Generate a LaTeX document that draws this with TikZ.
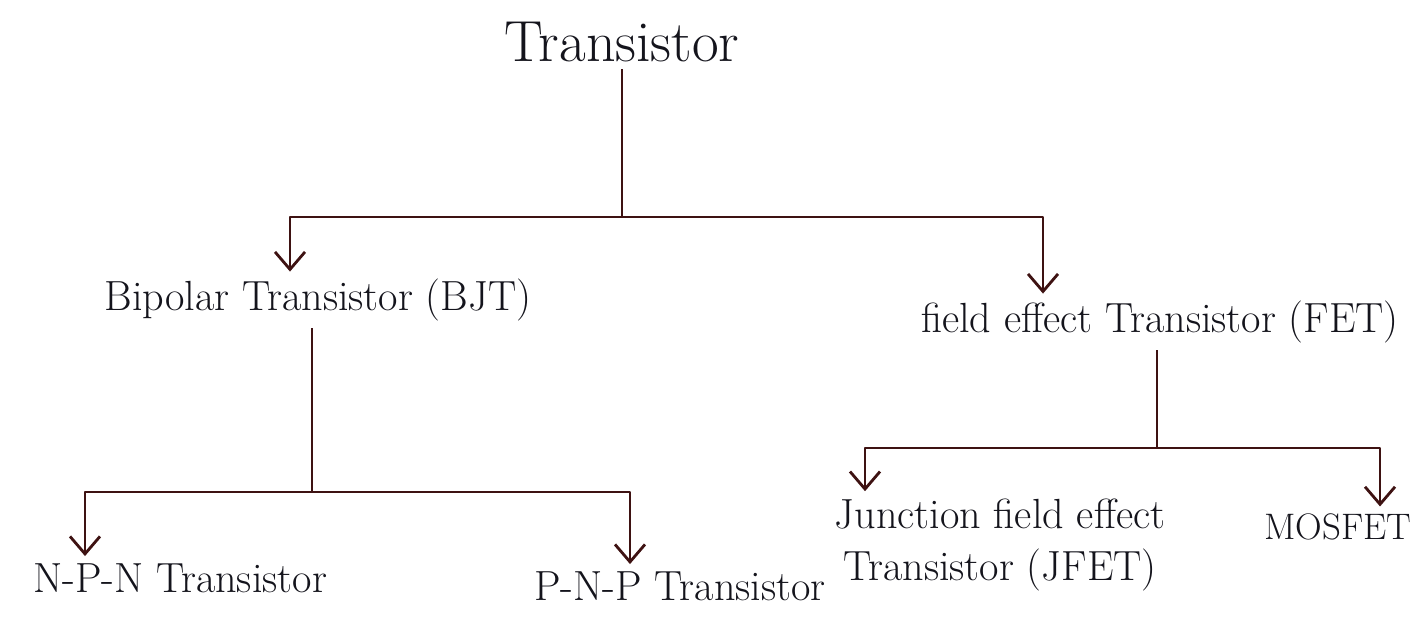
\documentclass[tikz,border=0pt]{standalone}
\usepackage{tikz}
\usetikzlibrary{arrows.meta}
\definecolor{lineclr}{HTML}{3E1212}
\definecolor{inkclr}{HTML}{14141C}
\begin{document}
\begin{tikzpicture}
	[x=0.02cm, y=-0.02cm,
	branch/.style={draw=lineclr, line width=1.6pt, line join=round},
	down/.style={branch, -{Straight Barb[length=3.5mm, width=6mm, line width=1.6pt]}},
	term/.style={text=inkclr, font=\fontsize{24}{30}\selectfont, inner sep=4pt}]
	
	\useasboundingbox (0,0) rectangle (1415,616);
	
	\node[term, font=\fontsize{33}{38}\selectfont] (tr) at (622,42) {Transistor};
	\node[term] (bjt) at (318,300) {Bipolar Transistor (BJT)};
	\node[term] (fet) at (1160,322) {field effect Transistor (FET)};
	\node[term] (npn) at (180,578) {N-P-N Transistor};
	\node[term] (pnp) at (680,586) {P-N-P Transistor};
	\node[term, align=center] (jfet) at (1000,545) {Junction field effect\\Transistor (JFET)};
	\node[term, font=\fontsize{21}{26}\selectfont] (mos) at (1338,527) {MOSFET};
	
	\coordinate (trj) at (622,217);
	\coordinate (bjtj) at (312,492);
	\coordinate (fetj) at (1157,448);
	
	\draw[branch] (tr) -- (trj);
	\draw[down] (trj) -| (bjt.north -| 290,0);
	\draw[down] (trj) -| (fet.north -| 1043,0);
	
	\draw[branch] (bjt.south -| bjtj) -- (bjtj);
	\draw[down] (bjtj) -| (npn.north -| 85,0);
	\draw[down] (bjtj) -| (pnp.north -| 630,0);
	
	\draw[branch] (fet.south -| fetj) -- (fetj);
	\draw[down] (fetj) -| (jfet.north -| 865,0);
	\draw[down] (fetj) -| (mos.north -| 1380,0);
\end{tikzpicture}
\end{document}
